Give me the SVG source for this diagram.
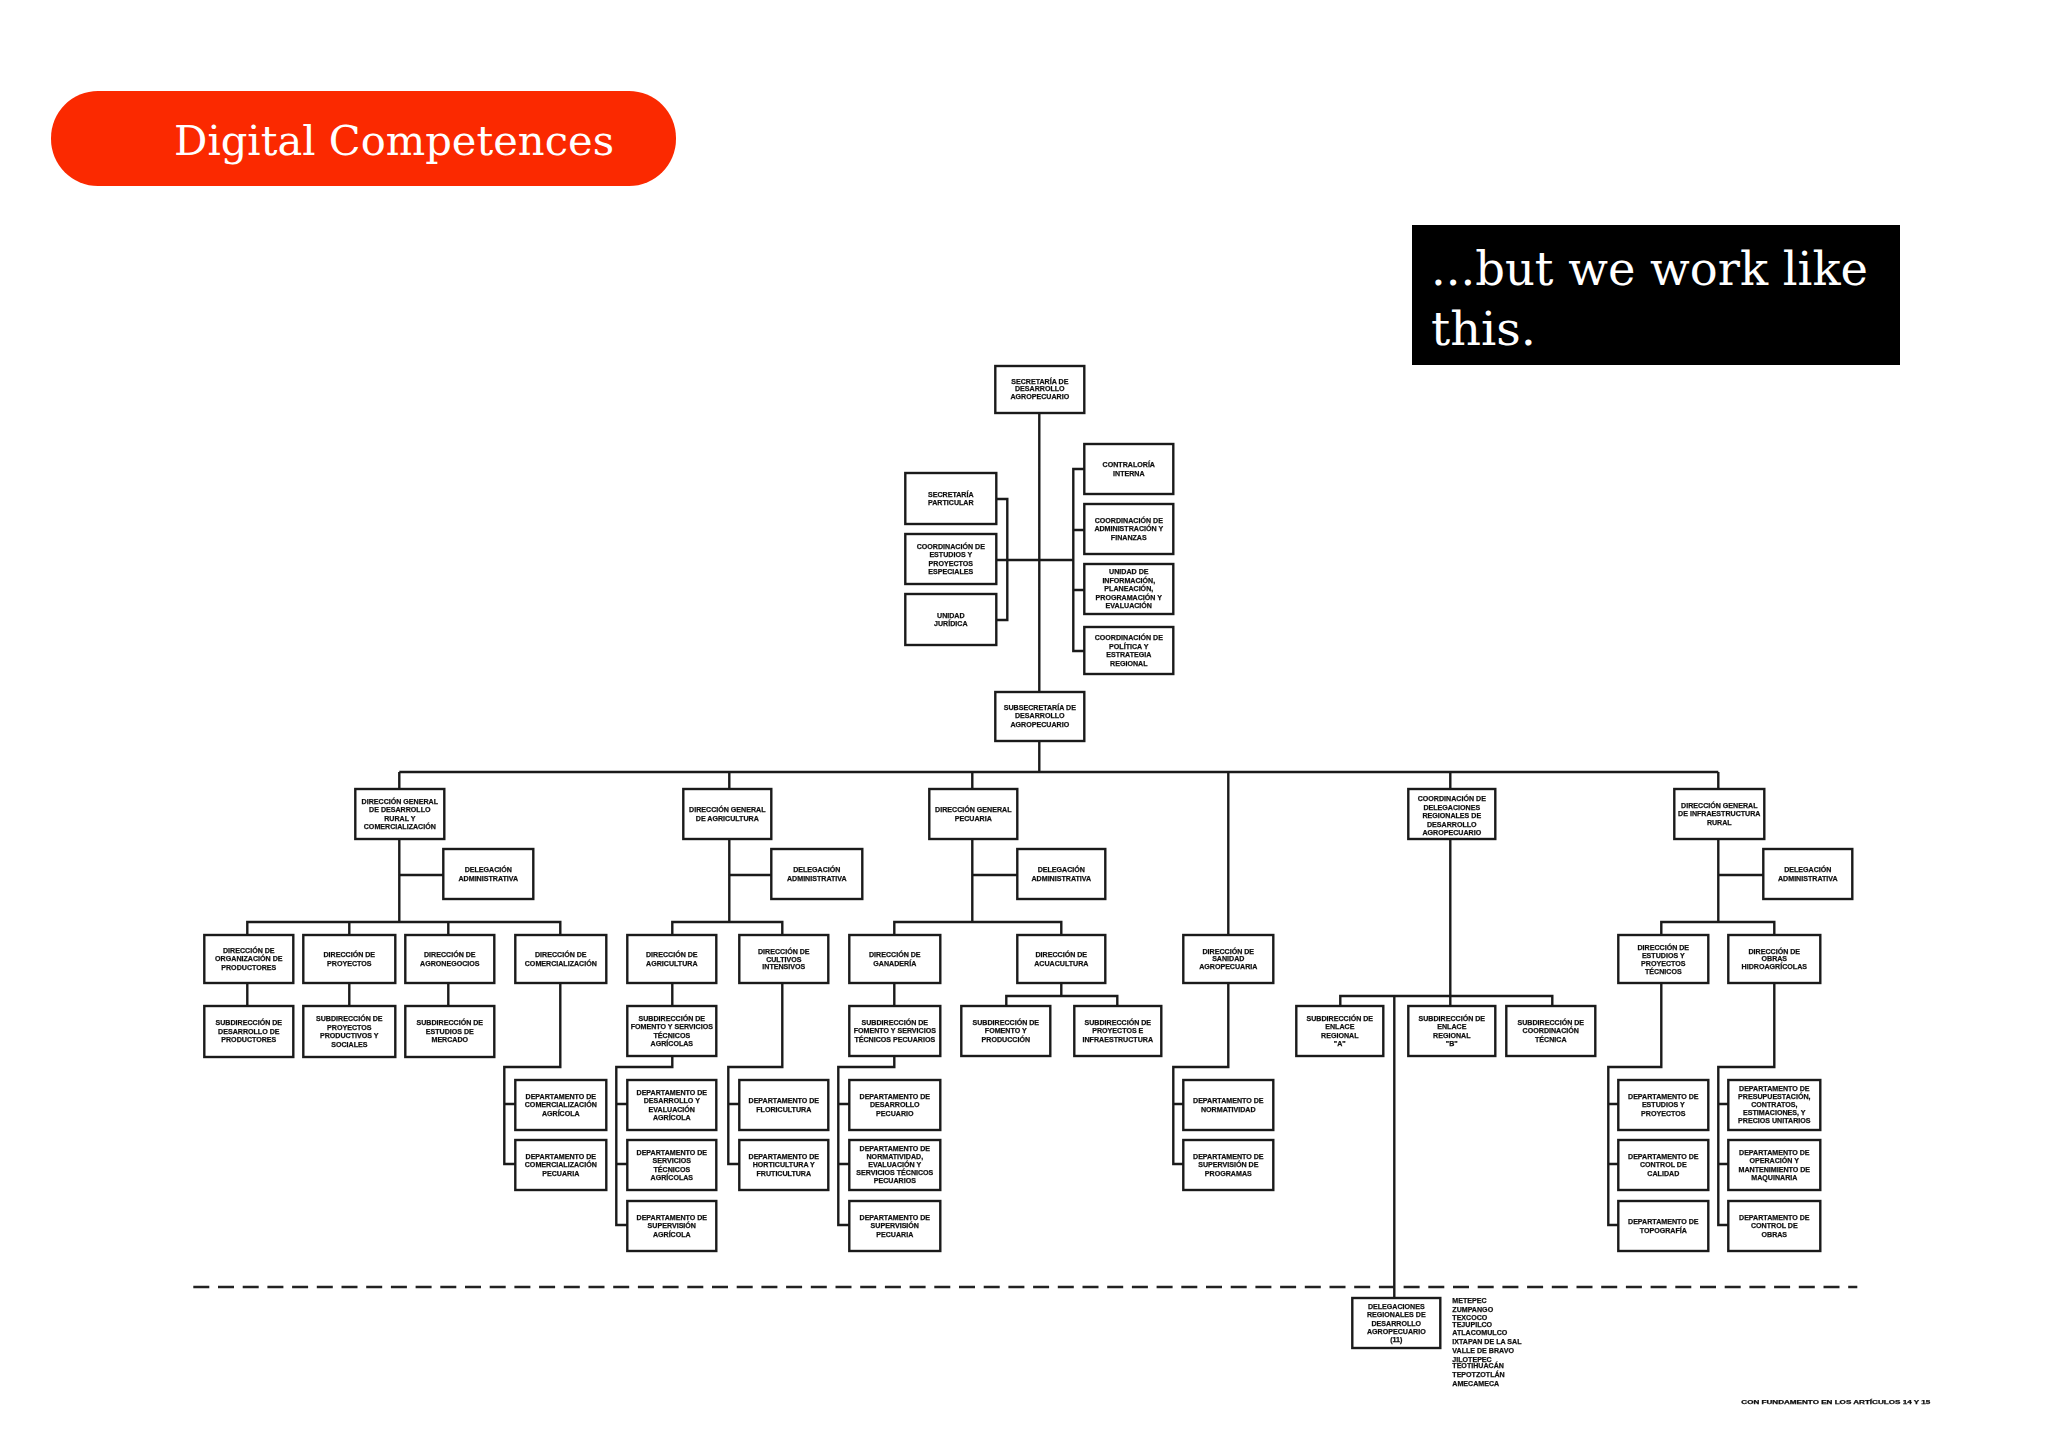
<svg xmlns="http://www.w3.org/2000/svg" width="2048" height="1447" viewBox="0 0 2048 1447">
<style>
.b{fill:#fff;stroke:#1a1a1a;stroke-width:2.4}
.c{fill:none;stroke:#1a1a1a;stroke-width:2.4}
.t{font-family:"Liberation Sans",Arial,sans-serif;font-size:7.1px;font-weight:700;fill:#111;stroke:#111;stroke-width:.25;text-anchor:middle;filter:url(#s)}
.l{font-family:"Liberation Sans",Arial,sans-serif;font-size:7.1px;font-weight:700;fill:#111;stroke:#111;stroke-width:.25;filter:url(#s)}
.h{font-family:"DejaVu Serif",serif;fill:#fff}
</style>
<defs><filter id="s" x="-10%" y="-20%" width="120%" height="140%"><feGaussianBlur stdDeviation="0.6"/></filter></defs>
<rect width="2048" height="1447" fill="#fff"/>
<g id="title"><rect x="51" y="91" width="625" height="95" rx="47" ry="47" fill="#fb2900"/>
<text class="h" x="174" y="155" font-size="41" textLength="440" lengthAdjust="spacingAndGlyphs">Digital Competences</text></g>
<g id="callout"><rect x="1412" y="225" width="488" height="140" fill="#000"/>
<text class="h" x="1431" y="285" font-size="47" textLength="437" lengthAdjust="spacingAndGlyphs">...but we work like</text>
<text class="h" x="1431" y="345" font-size="47" textLength="105" lengthAdjust="spacingAndGlyphs">this.</text></g>
<g transform="translate(0.3 1)">
<g id="connectors">
<path class="c" d="M1039 412V691M996 559H1073M996 498H1007V619H996M1084 468H1073V650H1084M1073 529H1084M1073 589H1084M1039 740V771M399 771H1718M399 771V788M729 771V788M972 771V788M1228 771V934M1450 771V788M1718 771V788"/>
<path class="c" d="M399 838V921M399 874H443M247 934V921H560V934M349 921V934M448 921V934M247 982V1005M349 982V1005M448 982V1005M560 982V1066H504V1163H515M504 1103H515"/>
<path class="c" d="M729 838V921M729 874H771M672 934V921H782V934M672 982V1005M672 1055V1066H616V1224H627M616 1103H627M616 1163H627M782 982V1066H728V1163H739M728 1103H739"/>
<path class="c" d="M972 838V921M972 874H1017M894 934V921H1061V934M894 982V1005M894 1055V1066H838V1224H849M838 1103H849M838 1163H849M1061 982V995M1006 1005V995H1117V1005"/>
<path class="c" d="M1228 982V1066H1173V1163H1183M1173 1103H1183"/>
<path class="c" d="M1450 838V1005M1340 1005V995H1552V1005M1394 995V1297"/>
<path class="c" d="M1718 838V921M1718 874H1763M1661 934V921H1774V934M1661 982V1066H1608V1224H1618M1608 1103H1618M1608 1163H1618M1774 982V1066H1718V1224H1728M1718 1103H1728M1718 1163H1728"/>
<path d="M193 1286H1857" fill="none" stroke="#222" stroke-width="2.6" stroke-dasharray="16 8.7"/>
</g>
<g id="n01"><rect class="b" x="995" y="365" width="89" height="47"/><text class="t" y="382.900"><tspan x="1039.500">SECRETARÍA DE</tspan><tspan x="1039.500" dy="7.500">DESARROLLO</tspan><tspan x="1039.500" dy="7.500">AGROPECUARIO</tspan></text></g>
<g id="n02"><rect class="b" x="905" y="472" width="91" height="51"/><text class="t" y="495.600"><tspan x="950.500">SECRETARÍA</tspan><tspan x="950.500" dy="8.500">PARTICULAR</tspan></text></g>
<g id="n03"><rect class="b" x="905" y="533" width="91" height="50"/><text class="t" y="547.600"><tspan x="950.500">COORDINACIÓN DE</tspan><tspan x="950.500" dy="8.500">ESTUDIOS Y</tspan><tspan x="950.500" dy="8.500">PROYECTOS</tspan><tspan x="950.500" dy="8.500">ESPECIALES</tspan></text></g>
<g id="n04"><rect class="b" x="905" y="593" width="91" height="51"/><text class="t" y="616.600"><tspan x="950.500">UNIDAD</tspan><tspan x="950.500" dy="8.500">JURÍDICA</tspan></text></g>
<g id="n05"><rect class="b" x="1084" y="443" width="89" height="50"/><text class="t" y="466.100"><tspan x="1128.500">CONTRALORÍA</tspan><tspan x="1128.500" dy="8.500">INTERNA</tspan></text></g>
<g id="n06"><rect class="b" x="1084" y="503" width="89" height="50"/><text class="t" y="521.900"><tspan x="1128.500">COORDINACIÓN DE</tspan><tspan x="1128.500" dy="8.500">ADMINISTRACIÓN Y</tspan><tspan x="1128.500" dy="8.500">FINANZAS</tspan></text></g>
<g id="n07"><rect class="b" x="1084" y="563" width="89" height="50"/><text class="t" y="573.400"><tspan x="1128.500">UNIDAD DE</tspan><tspan x="1128.500" dy="8.500">INFORMACIÓN,</tspan><tspan x="1128.500" dy="8.500">PLANEACIÓN,</tspan><tspan x="1128.500" dy="8.500">PROGRAMACIÓN Y</tspan><tspan x="1128.500" dy="8.500">EVALUACIÓN</tspan></text></g>
<g id="n08"><rect class="b" x="1084" y="626" width="89" height="47"/><text class="t" y="639.100"><tspan x="1128.500">COORDINACIÓN DE</tspan><tspan x="1128.500" dy="8.500">POLÍTICA Y</tspan><tspan x="1128.500" dy="8.500">ESTRATEGIA</tspan><tspan x="1128.500" dy="8.500">REGIONAL</tspan></text></g>
<g id="n09"><rect class="b" x="995" y="691" width="89" height="49"/><text class="t" y="708.900"><tspan x="1039.500">SUBSECRETARÍA DE</tspan><tspan x="1039.500" dy="8.500">DESARROLLO</tspan><tspan x="1039.500" dy="8.500">AGROPECUARIO</tspan></text></g>
<g id="n10"><rect class="b" x="355" y="788" width="89" height="50"/><text class="t" y="802.600"><tspan x="399.500">DIRECCIÓN GENERAL</tspan><tspan x="399.500" dy="8.500">DE DESARROLLO</tspan><tspan x="399.500" dy="8.500">RURAL Y</tspan><tspan x="399.500" dy="8.500">COMERCIALIZACIÓN</tspan></text></g>
<g id="n11"><rect class="b" x="683" y="788" width="88" height="50"/><text class="t" y="811.100"><tspan x="727">DIRECCIÓN GENERAL</tspan><tspan x="727" dy="8.500">DE AGRICULTURA</tspan></text></g>
<g id="n12"><rect class="b" x="929" y="788" width="88" height="50"/><text class="t" y="811.100"><tspan x="973">DIRECCIÓN GENERAL</tspan><tspan x="973" dy="8.500">PECUARIA</tspan></text></g>
<g id="n13"><rect class="b" x="1408" y="788" width="87" height="50"/><text class="t" y="800.400"><tspan x="1451.500">COORDINACIÓN DE</tspan><tspan x="1451.500" dy="8.500">DELEGACIONES</tspan><tspan x="1451.500" dy="8.500">REGIONALES DE</tspan><tspan x="1451.500" dy="8.500">DESARROLLO</tspan><tspan x="1451.500" dy="8.500">AGROPECUARIO</tspan></text></g>
<g id="n14"><rect class="b" x="1674" y="788" width="90" height="50"/><text class="t" y="806.900"><tspan x="1719">DIRECCIÓN GENERAL</tspan><tspan x="1719" dy="8.500">DE INFRAESTRUCTURA</tspan><tspan x="1719" dy="8.500">RURAL</tspan></text></g>
<g id="n15"><rect class="b" x="443" y="848" width="90" height="50"/><text class="t" y="871.100"><tspan x="488">DELEGACIÓN</tspan><tspan x="488" dy="8.500">ADMINISTRATIVA</tspan></text></g>
<g id="n16"><rect class="b" x="771" y="848" width="91" height="50"/><text class="t" y="871.100"><tspan x="816.500">DELEGACIÓN</tspan><tspan x="816.500" dy="8.500">ADMINISTRATIVA</tspan></text></g>
<g id="n17"><rect class="b" x="1017" y="848" width="88" height="50"/><text class="t" y="871.100"><tspan x="1061">DELEGACIÓN</tspan><tspan x="1061" dy="8.500">ADMINISTRATIVA</tspan></text></g>
<g id="n18"><rect class="b" x="1763" y="848" width="89" height="50"/><text class="t" y="871.100"><tspan x="1807.500">DELEGACIÓN</tspan><tspan x="1807.500" dy="8.500">ADMINISTRATIVA</tspan></text></g>
<g id="n19"><rect class="b" x="204" y="934" width="89" height="48"/><text class="t" y="951.900"><tspan x="248.500">DIRECCIÓN DE</tspan><tspan x="248.500" dy="8.500">ORGANIZACIÓN DE</tspan><tspan x="248.500" dy="8.500">PRODUCTORES</tspan></text></g>
<g id="n20"><rect class="b" x="303" y="934" width="92" height="48"/><text class="t" y="956.100"><tspan x="349">DIRECCIÓN DE</tspan><tspan x="349" dy="8.500">PROYECTOS</tspan></text></g>
<g id="n21"><rect class="b" x="405" y="934" width="89" height="48"/><text class="t" y="956.100"><tspan x="449.500">DIRECCIÓN DE</tspan><tspan x="449.500" dy="8.500">AGRONEGOCIOS</tspan></text></g>
<g id="n22"><rect class="b" x="515" y="934" width="91" height="48"/><text class="t" y="956.100"><tspan x="560.500">DIRECCIÓN DE</tspan><tspan x="560.500" dy="8.500">COMERCIALIZACIÓN</tspan></text></g>
<g id="n23"><rect class="b" x="627" y="934" width="89" height="48"/><text class="t" y="956.100"><tspan x="671.500">DIRECCIÓN DE</tspan><tspan x="671.500" dy="8.500">AGRICULTURA</tspan></text></g>
<g id="n24"><rect class="b" x="739" y="934" width="89" height="48"/><text class="t" y="953.400"><tspan x="783.500">DIRECCIÓN DE</tspan><tspan x="783.500" dy="7.500">CULTIVOS</tspan><tspan x="783.500" dy="7.500">INTENSIVOS</tspan></text></g>
<g id="n25"><rect class="b" x="849" y="934" width="91" height="48"/><text class="t" y="956.100"><tspan x="894.500">DIRECCIÓN DE</tspan><tspan x="894.500" dy="8.500">GANADERÍA</tspan></text></g>
<g id="n26"><rect class="b" x="1017" y="934" width="88" height="48"/><text class="t" y="956.100"><tspan x="1061">DIRECCIÓN DE</tspan><tspan x="1061" dy="8.500">ACUACULTURA</tspan></text></g>
<g id="n27"><rect class="b" x="1183" y="934" width="90" height="48"/><text class="t" y="952.500"><tspan x="1228">DIRECCIÓN DE</tspan><tspan x="1228" dy="7.500">SANIDAD</tspan><tspan x="1228" dy="7.500">AGROPECUARIA</tspan></text></g>
<g id="n28"><rect class="b" x="1618" y="934" width="90" height="48"/><text class="t" y="948.500"><tspan x="1663">DIRECCIÓN DE</tspan><tspan x="1663" dy="8">ESTUDIOS Y</tspan><tspan x="1663" dy="8">PROYECTOS</tspan><tspan x="1663" dy="8">TÉCNICOS</tspan></text></g>
<g id="n29"><rect class="b" x="1728" y="934" width="92" height="48"/><text class="t" y="952.500"><tspan x="1774">DIRECCIÓN DE</tspan><tspan x="1774" dy="7.500">OBRAS</tspan><tspan x="1774" dy="7.500">HIDROAGRÍCOLAS</tspan></text></g>
<g id="n30"><rect class="b" x="204" y="1005" width="89" height="51"/><text class="t" y="1024.400"><tspan x="248.500">SUBDIRECCIÓN DE</tspan><tspan x="248.500" dy="8.500">DESARROLLO DE</tspan><tspan x="248.500" dy="8.500">PRODUCTORES</tspan></text></g>
<g id="n31"><rect class="b" x="303" y="1005" width="92" height="51"/><text class="t" y="1020.100"><tspan x="349">SUBDIRECCIÓN DE</tspan><tspan x="349" dy="8.500">PROYECTOS</tspan><tspan x="349" dy="8.500">PRODUCTIVOS Y</tspan><tspan x="349" dy="8.500">SOCIALES</tspan></text></g>
<g id="n32"><rect class="b" x="405" y="1005" width="89" height="51"/><text class="t" y="1024.400"><tspan x="449.500">SUBDIRECCIÓN DE</tspan><tspan x="449.500" dy="8.500">ESTUDIOS DE</tspan><tspan x="449.500" dy="8.500">MERCADO</tspan></text></g>
<g id="n33"><rect class="b" x="627" y="1005" width="89" height="50"/><text class="t" y="1019.600"><tspan x="671.500">SUBDIRECCIÓN DE</tspan><tspan x="671.500" dy="8.500">FOMENTO Y SERVICIOS</tspan><tspan x="671.500" dy="8.500">TÉCNICOS</tspan><tspan x="671.500" dy="8.500">AGRÍCOLAS</tspan></text></g>
<g id="n34"><rect class="b" x="849" y="1005" width="91" height="50"/><text class="t" y="1023.900"><tspan x="894.500">SUBDIRECCIÓN DE</tspan><tspan x="894.500" dy="8.500">FOMENTO Y SERVICIOS</tspan><tspan x="894.500" dy="8.500">TÉCNICOS PECUARIOS</tspan></text></g>
<g id="n35"><rect class="b" x="961" y="1005" width="89" height="50"/><text class="t" y="1023.900"><tspan x="1005.500">SUBDIRECCIÓN DE</tspan><tspan x="1005.500" dy="8.500">FOMENTO Y</tspan><tspan x="1005.500" dy="8.500">PRODUCCIÓN</tspan></text></g>
<g id="n36"><rect class="b" x="1074" y="1005" width="87" height="50"/><text class="t" y="1023.900"><tspan x="1117.500">SUBDIRECCIÓN DE</tspan><tspan x="1117.500" dy="8.500">PROYECTOS E</tspan><tspan x="1117.500" dy="8.500">INFRAESTRUCTURA</tspan></text></g>
<g id="n37"><rect class="b" x="1296" y="1005" width="87" height="50"/><text class="t" y="1019.600"><tspan x="1339.500">SUBDIRECCIÓN DE</tspan><tspan x="1339.500" dy="8.500">ENLACE</tspan><tspan x="1339.500" dy="8.500">REGIONAL</tspan><tspan x="1339.500" dy="8.500">"A"</tspan></text></g>
<g id="n38"><rect class="b" x="1408" y="1005" width="87" height="50"/><text class="t" y="1019.600"><tspan x="1451.500">SUBDIRECCIÓN DE</tspan><tspan x="1451.500" dy="8.500">ENLACE</tspan><tspan x="1451.500" dy="8.500">REGIONAL</tspan><tspan x="1451.500" dy="8.500">"B"</tspan></text></g>
<g id="n39"><rect class="b" x="1506" y="1005" width="89" height="50"/><text class="t" y="1023.900"><tspan x="1550.500">SUBDIRECCIÓN DE</tspan><tspan x="1550.500" dy="8.500">COORDINACIÓN</tspan><tspan x="1550.500" dy="8.500">TÉCNICA</tspan></text></g>
<g id="n40"><rect class="b" x="515" y="1079" width="91" height="50"/><text class="t" y="1097.900"><tspan x="560.500">DEPARTAMENTO DE</tspan><tspan x="560.500" dy="8.500">COMERCIALIZACIÓN</tspan><tspan x="560.500" dy="8.500">AGRÍCOLA</tspan></text></g>
<g id="n41"><rect class="b" x="515" y="1139" width="91" height="50"/><text class="t" y="1157.900"><tspan x="560.500">DEPARTAMENTO DE</tspan><tspan x="560.500" dy="8.500">COMERCIALIZACIÓN</tspan><tspan x="560.500" dy="8.500">PECUARIA</tspan></text></g>
<g id="n42"><rect class="b" x="627" y="1079" width="89" height="50"/><text class="t" y="1093.600"><tspan x="671.500">DEPARTAMENTO DE</tspan><tspan x="671.500" dy="8.500">DESARROLLO Y</tspan><tspan x="671.500" dy="8.500">EVALUACIÓN</tspan><tspan x="671.500" dy="8.500">AGRÍCOLA</tspan></text></g>
<g id="n43"><rect class="b" x="627" y="1139" width="89" height="50"/><text class="t" y="1153.600"><tspan x="671.500">DEPARTAMENTO DE</tspan><tspan x="671.500" dy="8.500">SERVICIOS</tspan><tspan x="671.500" dy="8.500">TÉCNICOS</tspan><tspan x="671.500" dy="8.500">AGRÍCOLAS</tspan></text></g>
<g id="n44"><rect class="b" x="627" y="1200" width="89" height="50"/><text class="t" y="1218.900"><tspan x="671.500">DEPARTAMENTO DE</tspan><tspan x="671.500" dy="8.500">SUPERVISIÓN</tspan><tspan x="671.500" dy="8.500">AGRÍCOLA</tspan></text></g>
<g id="n45"><rect class="b" x="739" y="1079" width="89" height="50"/><text class="t" y="1102.100"><tspan x="783.500">DEPARTAMENTO DE</tspan><tspan x="783.500" dy="8.500">FLORICULTURA</tspan></text></g>
<g id="n46"><rect class="b" x="739" y="1139" width="89" height="50"/><text class="t" y="1157.900"><tspan x="783.500">DEPARTAMENTO DE</tspan><tspan x="783.500" dy="8.500">HORTICULTURA Y</tspan><tspan x="783.500" dy="8.500">FRUTICULTURA</tspan></text></g>
<g id="n47"><rect class="b" x="849" y="1079" width="91" height="50"/><text class="t" y="1097.900"><tspan x="894.500">DEPARTAMENTO DE</tspan><tspan x="894.500" dy="8.500">DESARROLLO</tspan><tspan x="894.500" dy="8.500">PECUARIO</tspan></text></g>
<g id="n48"><rect class="b" x="849" y="1139" width="91" height="50"/><text class="t" y="1150.400"><tspan x="894.500">DEPARTAMENTO DE</tspan><tspan x="894.500" dy="8">NORMATIVIDAD,</tspan><tspan x="894.500" dy="8">EVALUACIÓN Y</tspan><tspan x="894.500" dy="8">SERVICIOS TÉCNICOS</tspan><tspan x="894.500" dy="8">PECUARIOS</tspan></text></g>
<g id="n49"><rect class="b" x="849" y="1200" width="91" height="50"/><text class="t" y="1218.900"><tspan x="894.500">DEPARTAMENTO DE</tspan><tspan x="894.500" dy="8.500">SUPERVISIÓN</tspan><tspan x="894.500" dy="8.500">PECUARIA</tspan></text></g>
<g id="n50"><rect class="b" x="1183" y="1079" width="90" height="50"/><text class="t" y="1102.100"><tspan x="1228">DEPARTAMENTO DE</tspan><tspan x="1228" dy="8.500">NORMATIVIDAD</tspan></text></g>
<g id="n51"><rect class="b" x="1183" y="1139" width="90" height="50"/><text class="t" y="1157.900"><tspan x="1228">DEPARTAMENTO DE</tspan><tspan x="1228" dy="8.500">SUPERVISIÓN DE</tspan><tspan x="1228" dy="8.500">PROGRAMAS</tspan></text></g>
<g id="n52"><rect class="b" x="1618" y="1079" width="90" height="50"/><text class="t" y="1097.900"><tspan x="1663">DEPARTAMENTO DE</tspan><tspan x="1663" dy="8.500">ESTUDIOS Y</tspan><tspan x="1663" dy="8.500">PROYECTOS</tspan></text></g>
<g id="n53"><rect class="b" x="1618" y="1139" width="90" height="50"/><text class="t" y="1157.900"><tspan x="1663">DEPARTAMENTO DE</tspan><tspan x="1663" dy="8.500">CONTROL DE</tspan><tspan x="1663" dy="8.500">CALIDAD</tspan></text></g>
<g id="n54"><rect class="b" x="1618" y="1200" width="90" height="50"/><text class="t" y="1223.100"><tspan x="1663">DEPARTAMENTO DE</tspan><tspan x="1663" dy="8.500">TOPOGRAFÍA</tspan></text></g>
<g id="n55"><rect class="b" x="1728" y="1079" width="92" height="50"/><text class="t" y="1089.900"><tspan x="1774">DEPARTAMENTO DE</tspan><tspan x="1774" dy="8">PRESUPUESTACIÓN,</tspan><tspan x="1774" dy="8">CONTRATOS,</tspan><tspan x="1774" dy="8">ESTIMACIONES, Y</tspan><tspan x="1774" dy="8">PRECIOS UNITARIOS</tspan></text></g>
<g id="n56"><rect class="b" x="1728" y="1139" width="92" height="50"/><text class="t" y="1153.600"><tspan x="1774">DEPARTAMENTO DE</tspan><tspan x="1774" dy="8.500">OPERACIÓN Y</tspan><tspan x="1774" dy="8.500">MANTENIMIENTO DE</tspan><tspan x="1774" dy="8.500">MAQUINARIA</tspan></text></g>
<g id="n57"><rect class="b" x="1728" y="1200" width="92" height="50"/><text class="t" y="1218.900"><tspan x="1774">DEPARTAMENTO DE</tspan><tspan x="1774" dy="8.500">CONTROL DE</tspan><tspan x="1774" dy="8.500">OBRAS</tspan></text></g>
<g id="n58"><rect class="b" x="1352" y="1297" width="88" height="50"/><text class="t" y="1307.500"><tspan x="1396">DELEGACIONES</tspan><tspan x="1396" dy="8.500">REGIONALES DE</tspan><tspan x="1396" dy="8.500">DESARROLLO</tspan><tspan x="1396" dy="8.500">AGROPECUARIO</tspan><tspan x="1396" dy="8">(11)</tspan></text></g>
<g id="delegation-list"><text class="l" y="1302"><tspan x="1452">METEPEC</tspan><tspan x="1452" dy="8.700">ZUMPANGO</tspan><tspan x="1452" dy="8.700">TEXCOCO</tspan><tspan x="1452" dy="6.300">TEJUPILCO</tspan><tspan x="1452" dy="8.700">ATLACOMULCO</tspan><tspan x="1452" dy="8.700">IXTAPAN DE LA SAL</tspan><tspan x="1452" dy="8.700">VALLE DE BRAVO</tspan><tspan x="1452" dy="8.700">JILOTEPEC</tspan><tspan x="1452" dy="6.700">TEOTIHUACÁN</tspan><tspan x="1452" dy="8.700">TEPOTZOTLÁN</tspan><tspan x="1452" dy="8.700">AMECAMECA</tspan></text></g>
<g id="footnote"><text class="l" x="1741" y="1403" style="font-size:5px" textLength="189" lengthAdjust="spacingAndGlyphs">CON FUNDAMENTO EN LOS ARTÍCULOS 14 Y 15</text></g>
</g>
</svg>
